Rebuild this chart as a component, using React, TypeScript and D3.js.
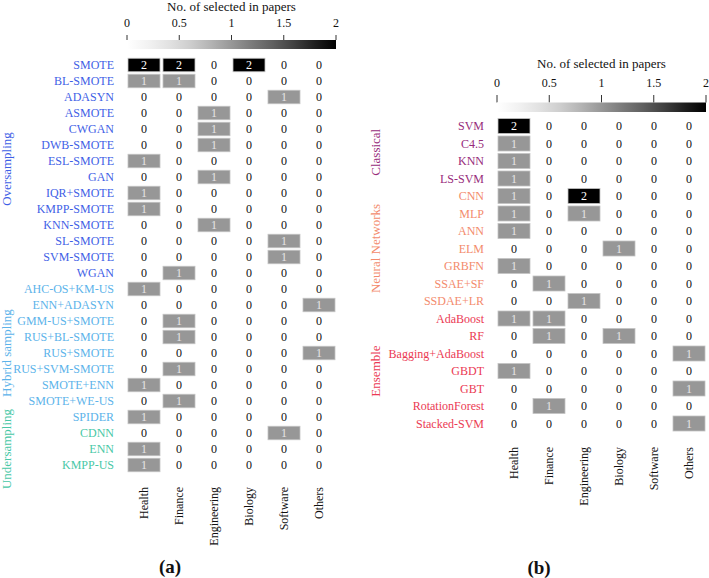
import React from "react";
import * as d3 from "d3";

// ---------- Data ----------
const domains = ["Health", "Finance", "Engineering", "Biology", "Software", "Others"];
const colorbarTicks = [0, 0.5, 1, 1.5, 2];

// Panel (a): resampling methods
const oversampling = ["SMOTE", "BL-SMOTE", "ADASYN", "ASMOTE", "CWGAN", "DWB-SMOTE", "ESL-SMOTE", "GAN", "IQR+SMOTE", "KMPP-SMOTE", "KNN-SMOTE", "SL-SMOTE", "SVM-SMOTE", "WGAN"];
const hybridSampling = ["AHC-OS+KM-US", "ENN+ADASYN", "GMM-US+SMOTE", "RUS+BL-SMOTE", "RUS+SMOTE", "RUS+SVM-SMOTE", "SMOTE+ENN", "SMOTE+WE-US", "SPIDER"];
const undersampling = ["CDNN", "ENN", "KMPP-US"];

const oversamplingValues = [
  [2, 2, 0, 2, 0, 0],
  [1, 1, 0, 0, 0, 0],
  [0, 0, 0, 0, 1, 0],
  [0, 0, 1, 0, 0, 0],
  [0, 0, 1, 0, 0, 0],
  [0, 0, 1, 0, 0, 0],
  [1, 0, 0, 0, 0, 0],
  [0, 0, 1, 0, 0, 0],
  [1, 0, 0, 0, 0, 0],
  [1, 0, 0, 0, 0, 0],
  [0, 0, 1, 0, 0, 0],
  [0, 0, 0, 0, 1, 0],
  [0, 0, 0, 0, 1, 0],
  [0, 1, 0, 0, 0, 0],
];
const hybridValues = [
  [1, 0, 0, 0, 0, 0],
  [0, 0, 0, 0, 0, 1],
  [0, 1, 0, 0, 0, 0],
  [0, 1, 0, 0, 0, 0],
  [0, 0, 0, 0, 0, 1],
  [0, 1, 0, 0, 0, 0],
  [1, 0, 0, 0, 0, 0],
  [0, 1, 0, 0, 0, 0],
  [1, 0, 0, 0, 0, 0],
];
const undersamplingValues = [
  [0, 0, 0, 0, 1, 0],
  [1, 0, 0, 0, 0, 0],
  [1, 0, 0, 0, 0, 0],
];

// Panel (b): classifiers
const classical = ["SVM", "C4.5", "KNN", "LS-SVM"];
const neuralNetworks = ["CNN", "MLP", "ANN", "ELM", "GRBFN", "SSAE+SF", "SSDAE+LR"];
const ensemble = ["AdaBoost", "RF", "Bagging+AdaBoost", "GBDT", "GBT", "RotationForest", "Stacked-SVM"];

const classicalValues = [
  [2, 0, 0, 0, 0, 0],
  [1, 0, 0, 0, 0, 0],
  [1, 0, 0, 0, 0, 0],
  [1, 0, 0, 0, 0, 0],
];
const neuralValues = [
  [1, 0, 2, 0, 0, 0],
  [1, 0, 1, 0, 0, 0],
  [1, 0, 0, 0, 0, 0],
  [0, 0, 0, 1, 0, 0],
  [1, 0, 0, 0, 0, 0],
  [0, 1, 0, 0, 0, 0],
  [0, 0, 1, 0, 0, 0],
];
const ensembleValues = [
  [1, 1, 0, 0, 0, 0],
  [0, 1, 0, 1, 0, 0],
  [0, 0, 0, 0, 0, 1],
  [1, 0, 0, 0, 0, 0],
  [0, 0, 0, 0, 0, 1],
  [0, 1, 0, 0, 0, 0],
  [0, 0, 0, 0, 0, 1],
];

// ---------- Styling ----------
const FONT = "Liberation Serif";
const colorScale = d3.scaleSequential(d3.interpolateGreys).domain([0, 2]);

type Group = { name: string; color: string; rows: string[]; values: number[][] };

type PanelCfg = {
  id: string;
  groups: Group[];
  colX0: number;
  rowTop: number;
  rowStep: number;
  titleY: number;
  tickLabelY: number;
  tickY1: number;
  barY: number;
  barH: number;
  rowLabelGap: number;
  groupLabelX: number;
  colLabelY: number;
  panelLabel: string;
  panelLabelX: number;
  panelLabelY: number;
};

const panelA: PanelCfg = {
  id: "a",
  groups: [
    { name: "Oversampling", color: "#3f5fe6", rows: oversampling, values: oversamplingValues },
    { name: "Hybrid sampling", color: "#5cb3ea", rows: hybridSampling, values: hybridValues },
    { name: "Undersampling", color: "#48c8a6", rows: undersampling, values: undersamplingValues },
  ],
  colX0: 126.5,
  rowTop: 57,
  rowStep: 16,
  titleY: 10.5,
  tickLabelY: 26.5,
  tickY1: 35,
  barY: 40,
  barH: 9,
  rowLabelGap: 14,
  groupLabelX: 11,
  colLabelY: 487,
  panelLabel: "(a)",
  panelLabelX: 170,
  panelLabelY: 573,
};

const panelB: PanelCfg = {
  id: "b",
  groups: [
    { name: "Classical", color: "#972b7b", rows: classical, values: classicalValues },
    { name: "Neural Networks", color: "#f38b6d", rows: neuralNetworks, values: neuralValues },
    { name: "Ensemble", color: "#eb3a53", rows: ensemble, values: ensembleValues },
  ],
  colX0: 496.5,
  rowTop: 117.25,
  rowStep: 17.5,
  titleY: 68,
  tickLabelY: 86.5,
  tickY1: 95,
  barY: 102.5,
  barH: 9.5,
  rowLabelGap: 14,
  groupLabelX: 379.5,
  colLabelY: 447,
  panelLabel: "(b)",
  panelLabelX: 539,
  panelLabelY: 574,
};

const txt = (size: number, extra: React.CSSProperties = {}): React.CSSProperties => ({
  fontFamily: FONT,
  fontSize: size,
  ...extra,
});

function Panel({ cfg }: { cfg: PanelCfg }) {
  const rows = cfg.groups.flatMap((g) => g.rows);
  const rowColor = new Map<string, string>();
  cfg.groups.forEach((g) => g.rows.forEach((r) => rowColor.set(r, g.color)));
  const cells: { row: string; col: string; v: number }[] = [];
  cfg.groups.forEach((g) =>
    g.rows.forEach((r, i) => g.values[i].forEach((v, j) => cells.push({ row: r, col: domains[j], v })))
  );

  const x = d3
    .scaleBand<string>()
    .domain(domains)
    .range([cfg.colX0, cfg.colX0 + domains.length * 35])
    .paddingInner(3 / 35)
    .paddingOuter(1.5 / 35);
  const y = d3
    .scaleBand<string>()
    .domain(rows)
    .range([cfg.rowTop, cfg.rowTop + rows.length * cfg.rowStep])
    .paddingInner(2.5 / cfg.rowStep)
    .paddingOuter(1.25 / cfg.rowStep);

  const cbX = d3.scaleLinear().domain([0, 2]).range([cfg.colX0 + 0.5, cfg.colX0 + domains.length * 35 - 0.5]);
  const gradId = "grad-" + cfg.id;
  const gradStops = d3.range(0, 1.0001, 0.1);

  const rowLabelX = (x(domains[0]) as number) - cfg.rowLabelGap;

  return (
    <g>
      <defs>
        <linearGradient id={gradId} x1="0" x2="1" y1="0" y2="0">
          {gradStops.map((t) => (
            <stop key={t} offset={t} stopColor={colorScale(t * 2)} />
          ))}
        </linearGradient>
      </defs>
      {/* colorbar */}
      <text x={(cbX(0) + cbX(2)) / 2} y={cfg.titleY} textAnchor="middle" fill="#111" style={txt(13)}>
        No. of selected in papers
      </text>
      {colorbarTicks.map((t) => (
        <g key={t}>
          <text x={cbX(t)} y={cfg.tickLabelY} textAnchor="middle" fill="#111" style={txt(12)}>
            {String(t)}
          </text>
          <line x1={cbX(t)} x2={cbX(t)} y1={cfg.tickY1} y2={cfg.barY} stroke="#333" strokeWidth={1} />
        </g>
      ))}
      <rect x={cbX(0)} y={cfg.barY} width={cbX(2) - cbX(0)} height={cfg.barH} fill={`url(#${gradId})`} />

      {/* cells */}
      {cells.map((c, i) => {
        const cx = (x(c.col) as number) + x.bandwidth() / 2;
        const cy = (y(c.row) as number) + y.bandwidth() / 2;
        return (
          <g key={i}>
            {c.v > 0 && (
              <rect
                x={x(c.col)}
                y={y(c.row)}
                width={x.bandwidth()}
                height={y.bandwidth()}
                fill={colorScale(c.v)}
                stroke="#c4c4c4"
                strokeWidth={0.8}
              />
            )}
            <text
              x={cx}
              y={cy}
              dy="0.35em"
              textAnchor="middle"
              fill={c.v === 0 ? "#111" : c.v >= 2 ? "#ffffff" : "#e6e6e6"}
              style={txt(12)}
            >
              {String(c.v)}
            </text>
          </g>
        );
      })}

      {/* row labels */}
      {rows.map((r) => (
        <text
          key={r}
          x={rowLabelX}
          y={(y(r) as number) + y.bandwidth() / 2}
          dy="0.35em"
          textAnchor="end"
          fill={rowColor.get(r)}
          style={txt(12)}
        >
          {r}
        </text>
      ))}

      {/* group labels */}
      {cfg.groups.map((g) => {
        const y0 = y(g.rows[0]) as number;
        const y1 = (y(g.rows[g.rows.length - 1]) as number) + y.bandwidth();
        const cy = (y0 + y1) / 2;
        return (
          <text
            key={g.name}
            transform={`translate(${cfg.groupLabelX},${cy}) rotate(-90)`}
            textAnchor="middle"
            fill={g.color}
            style={txt(13)}
          >
            {g.name}
          </text>
        );
      })}

      {/* column labels */}
      {domains.map((d) => (
        <text
          key={d}
          transform={`translate(${(x(d) as number) + x.bandwidth() / 2},${cfg.colLabelY}) rotate(-90)`}
          dy="0.35em"
          textAnchor="end"
          fill="#111"
          style={txt(12)}
        >
          {d}
        </text>
      ))}

      {/* panel label */}
      <text
        x={cfg.panelLabelX}
        y={cfg.panelLabelY}
        textAnchor="middle"
        fill="#111"
        style={txt(19, { fontWeight: "bold" })}
      >
        {cfg.panelLabel}
      </text>
    </g>
  );
}

export default function App() {
  return (
    <svg
      width={709}
      height={578}
      viewBox="0 0 709 578"
      style={{ position: "absolute", left: 0, top: 0, background: "#fff", display: "block" }}
    >
      <rect x={0} y={0} width={709} height={578} fill="#fff" />
      <Panel cfg={panelA} />
      <Panel cfg={panelB} />
    </svg>
  );
}
